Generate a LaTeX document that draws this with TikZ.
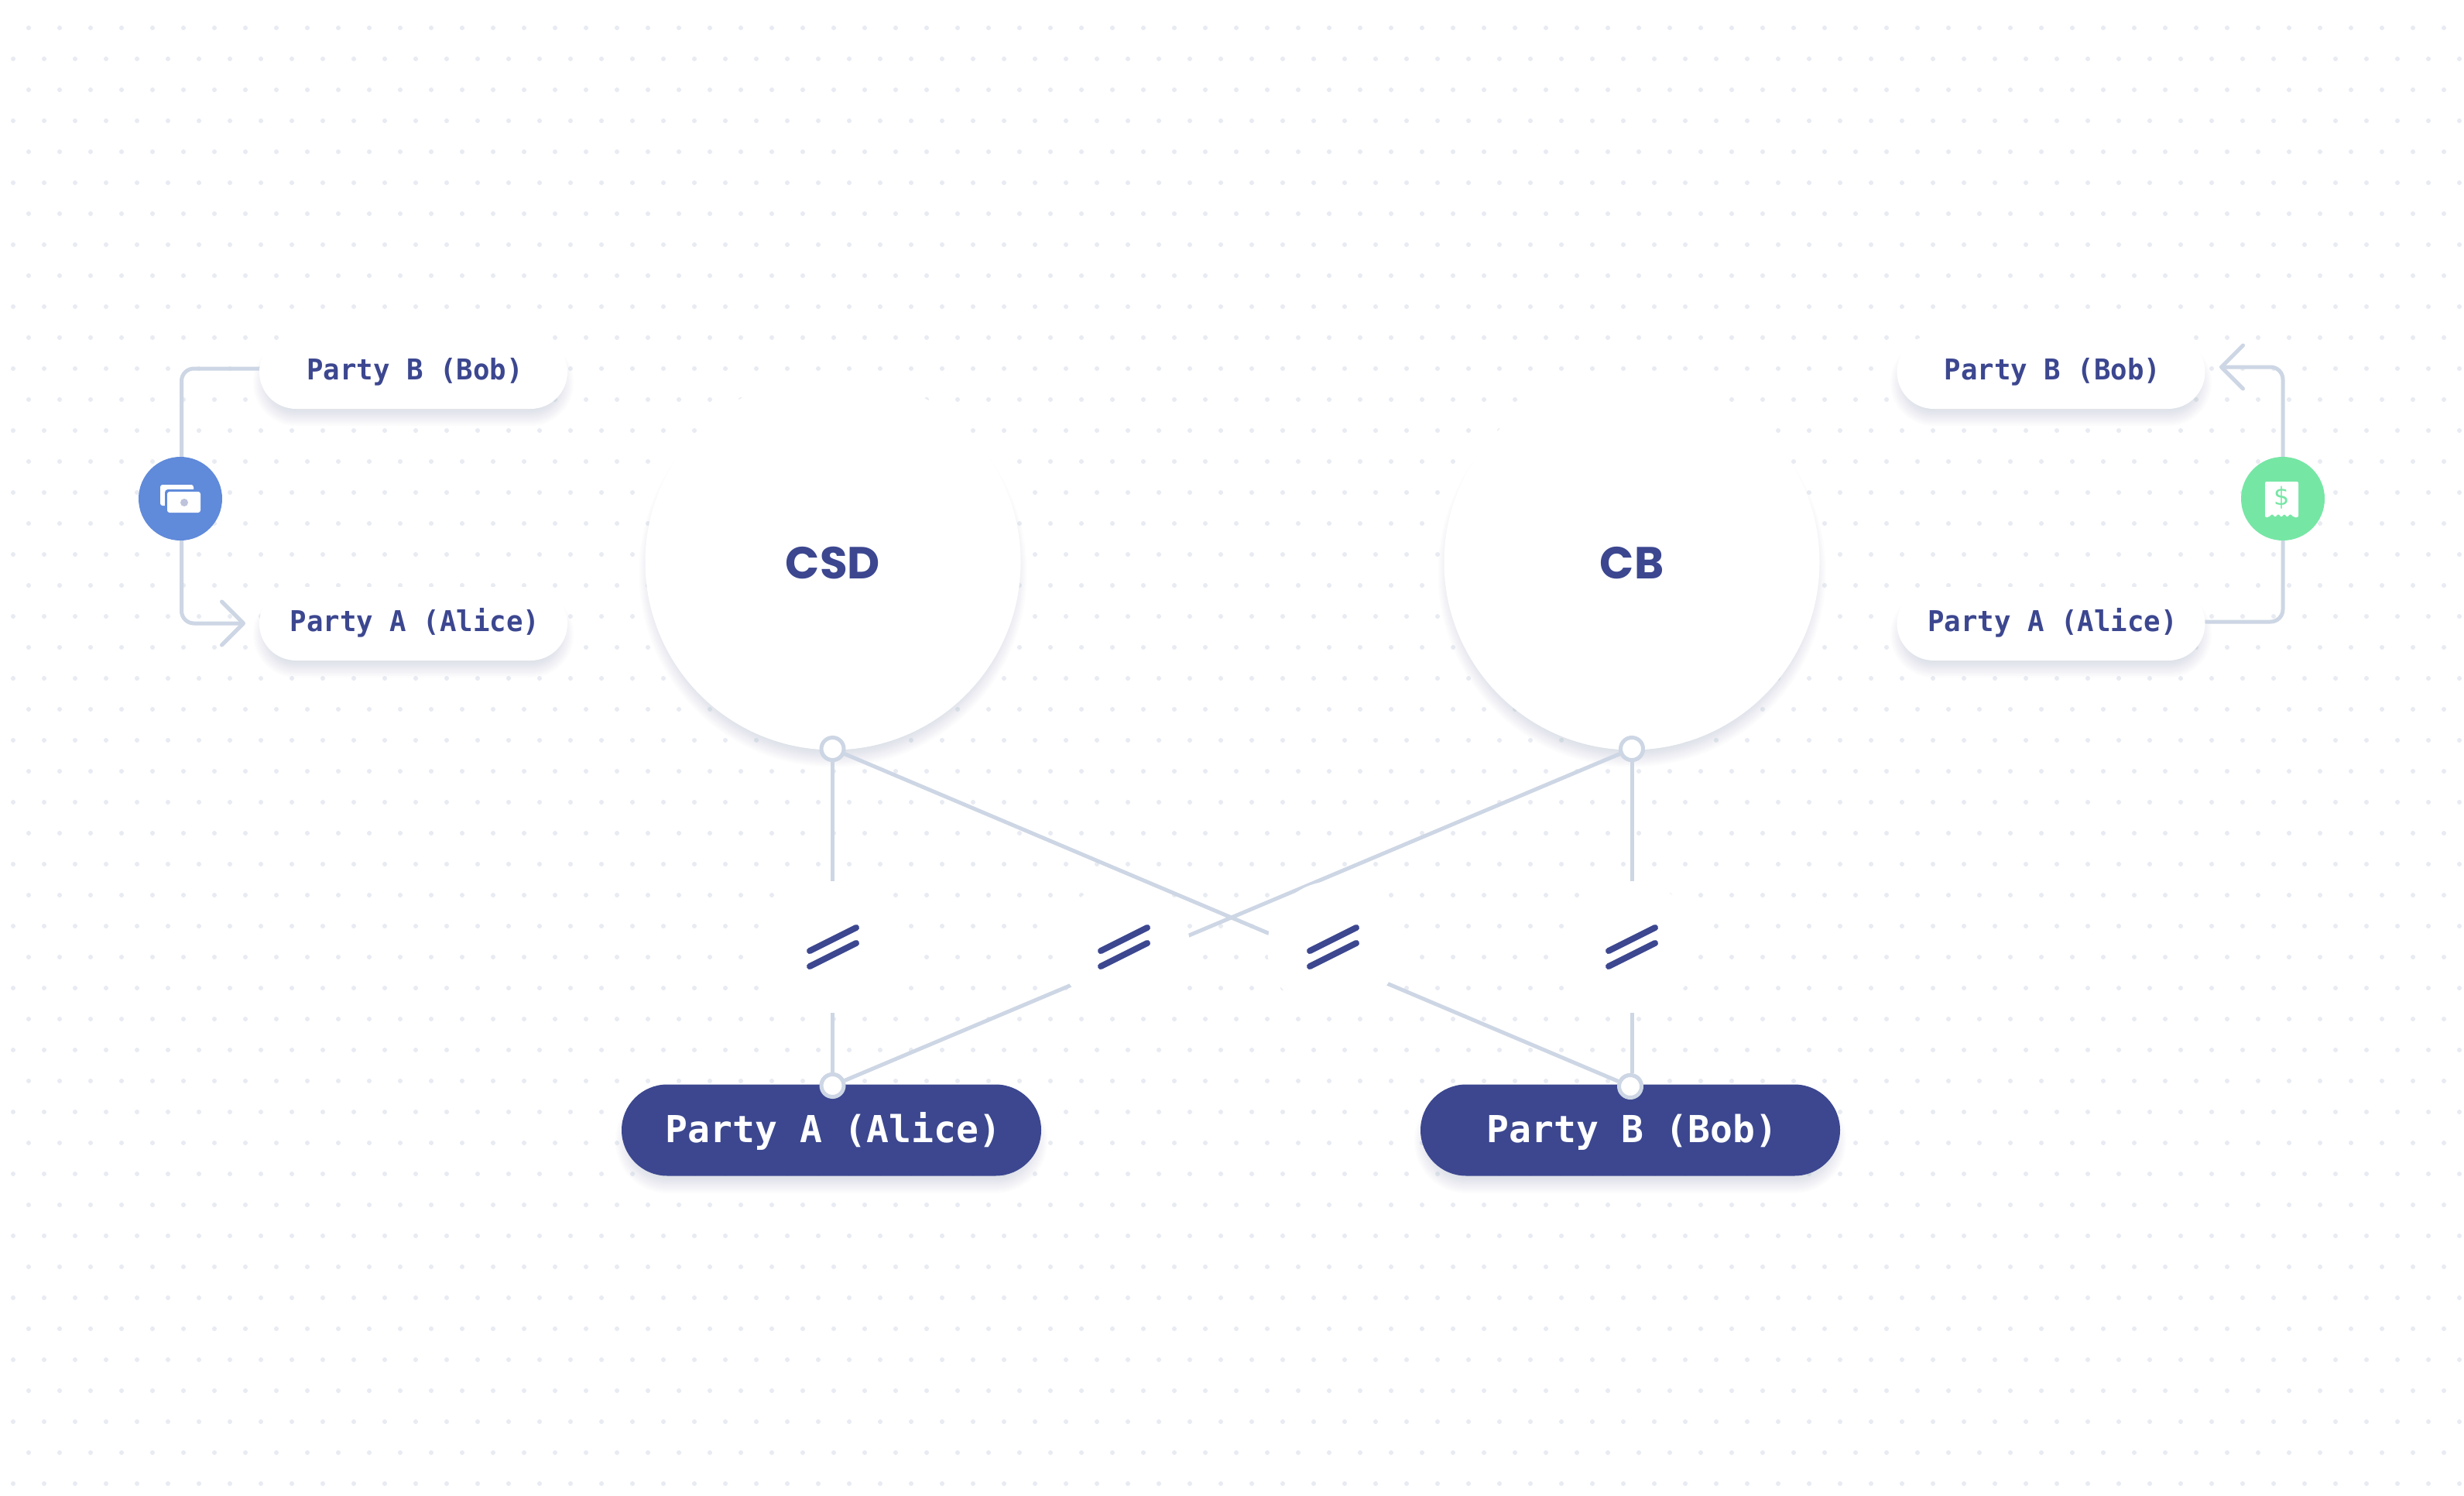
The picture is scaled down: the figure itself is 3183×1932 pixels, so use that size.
\documentclass[tikz,border=0pt]{standalone}
\usepackage{fontspec}
\usetikzlibrary{arrows.meta}
\newfontfamily\pillfont{DejaVu Sans Mono}[FakeStretch=0.965]
\newfontfamily\navyfont{DejaVu Sans Mono}
\newfontfamily\hubfont{Poppins}
\definecolor{navy}{HTML}{3C4790}
\definecolor{wire}{HTML}{CDD6E4}
\definecolor{dotc}{HTML}{E8EBF2}
\definecolor{shadowc}{HTML}{5B6C8F}
\definecolor{cashblue}{HTML}{608ADA}
\definecolor{mint}{HTML}{76E6A5}
\definecolor{holec}{HTML}{BDC3DA}
\tikzset{
  link/.style={draw=wire,line width=5pt},
  barb/.style={-{Straight Barb[length=28pt,width=56pt,line width=5pt,round]}},
  whitepill/.style={fill=white,rounded corners=47.5pt,minimum width=398pt,minimum height=95pt,inner sep=0pt,
     text=navy,text height=28pt,text depth=9pt,font=\pillfont\bfseries\fontsize{37}{44}\selectfont},
  navypill/.style={fill=navy,rounded corners=59pt,minimum width=542pt,minimum height=118pt,inner sep=0pt,
     text=white,text height=36pt,text depth=4pt,font=\navyfont\bfseries\fontsize{48}{56}\selectfont},
  hub/.style={circle,fill=white,minimum size=485pt,inner sep=0pt,text=navy,text height=42pt,text depth=0pt,font=\hubfont\bfseries\fontsize{58}{68}\selectfont},
  port/.style={circle,draw=wire,line width=5pt,fill=white,minimum size=29pt,inner sep=0pt},
  badge/.style={circle,minimum size=108pt,inner sep=0pt},
  slashmark/.style={draw=navy,line width=8pt,line cap=round},
  gapdisc/.style={fill=white},
  layer/.style={color=shadowc,opacity=0.016},
}
\newcommand{\pillshadow}[4]{% x1,x2,cy,h
  \foreach \e in {-14,-12,...,8}{
    \draw[layer,line width={#4+2*\e},line cap=round] (#1+#4/2,#3+14) -- (#2-#4/2,#3+14);
  }}
\newcommand{\discshadow}[3]{% cx,cy,r
  \foreach \e in {-14,-12,...,8}{
    \fill[layer] (#1,#2+14) circle ({#3+\e});
  }}
\newcommand{\gapmark}[1]{%
  \fill[gapdisc] (#1,1223) circle (85);
  \draw[slashmark] (#1-30,1228) -- (#1+30,1198);
  \draw[slashmark] (#1-30,1248) -- (#1+30,1218);}
\begin{document}
\begin{tikzpicture}[x=1pt,y=-1pt]
\path[use as bounding box,fill=white] (0,0) rectangle (3183,1932);
% dot field
\foreach \k in {0,...,47}{
  \pgfmathtruncatemacro{\odd}{mod(\k,2)}
  \pgfmathsetmacro{\yy}{36+40*\k}
  \pgfmathsetmacro{\xo}{\odd==1 ? 17 : 37}
  \fill[dotc] \foreach \n in {0,...,79}{ ({\xo+40*\n},\yy) circle (3) };
}
% shadows
\discshadow{1076}{726}{242.5}
\discshadow{2108}{726}{242.5}
\pillshadow{335}{733}{480.5}{95}
\pillshadow{335}{733}{805.5}{95}
\pillshadow{2450}{2849}{480.5}{95}
\pillshadow{2450}{2849}{805.5}{95}
\pillshadow{803}{1345}{1459.5}{118}
\pillshadow{1835}{2377}{1459.5}{118}
% ports placed first so that connectors can refer to them
\node[port] (csdport) at (1075.5,967) {};
\node[port] (cbport) at (2108,967) {};
\node[port] (aport) at (1075.5,1402) {};
\node[port] (bport) at (2106,1403) {};
% connectors
\draw[link] (csdport) -- (aport);
\draw[link] (cbport.south) -- (cbport.south |- bport.north);
\draw[link] (csdport) -- (bport);
\draw[link] (cbport) -- (aport);
% gaps and parallel marks
\gapmark{1076}
\gapmark{1452}
\gapmark{1722}
\gapmark{2108}
% hubs
\node[hub] (csd) at (1076,726) {CSD};
\node[hub] (cb) at (2108,726) {CB};
% side flows
\coordinate (lb) at (340,476);
\coordinate (la) at (317,805);
\coordinate (rb) at (2867,474);
\coordinate (ra) at (2845,803);
\draw[link,rounded corners=16pt] (lb) -- (234.5,476) -- (234.5,644);
\draw[link,barb,rounded corners=16pt] (234.5,644) -- (234.5,805) -- (la);
\draw[link,rounded corners=16pt] (ra) -- (2949,803) -- (2949,644);
\draw[link,barb,rounded corners=16pt] (2949,644) -- (2949,474) -- (rb);
% pills
\node[whitepill] (lbob) at (534,480.5) {\hspace*{4pt}Party B (Bob)};
\node[whitepill] (lalice) at (534,805.5) {\hspace*{4pt}Party A (Alice)};
\node[whitepill] (rbob) at (2649.5,480.5) {\hspace*{4pt}Party B (Bob)};
\node[whitepill] (ralice) at (2649.5,805.5) {\hspace*{4pt}Party A (Alice)};
\node[navypill] (alice) at (1074,1459.5) {\hspace*{5pt}Party A (Alice)};
\node[navypill] (bob) at (2106,1459.5) {\hspace*{5pt}Party B (Bob)};
% redraw ports on top of hubs and pills
\node[port] (csdporttop) at (csdport) {};
\node[port] (cbporttop) at (cbport) {};
\node[port] (aporttop) at (aport) {};
\node[port] (bporttop) at (bport) {};
% cash badge
\node[badge,fill=cashblue] (cash) at (233,644) {};
\fill[white,rounded corners=3pt] (207,626) rectangle (250,653);
\fill[cashblue,rounded corners=4pt] (213,632) rectangle (262,665);
\fill[white,rounded corners=3pt] (216,635) rectangle (259,662);
\fill[holec] (238,649) circle (5);
% receipt badge
\node[badge,fill=mint] (receipt) at (2949,644) {};
\fill[white,rounded corners=2pt] (2926,622) -- (2969,622) -- (2969,668) -- (2963,668)
  -- (2958.5,663.5) -- (2954.5,668) -- (2951,663.5) -- (2947,668) -- (2943,663.5) -- (2939,668) -- (2935,663.5) -- (2931,668) -- (2926,668) -- cycle;
\node[text=mint,inner sep=0pt,font=\fontspec{DejaVu Sans}\fontsize{32}{36}\selectfont] (dollar) at (2947.5,643) {\$};
\end{tikzpicture}
\end{document}
